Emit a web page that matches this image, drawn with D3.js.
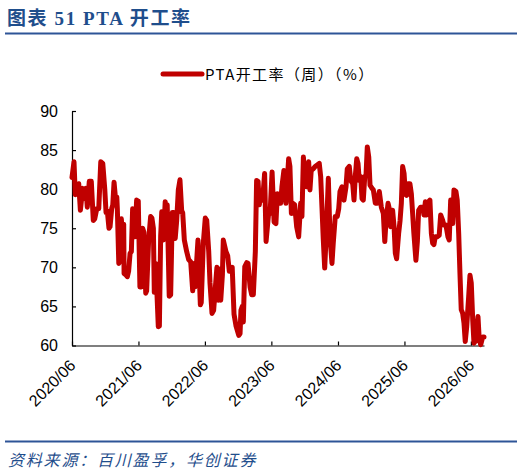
<!DOCTYPE html>
<html>
<head>
<meta charset="utf-8">
<script src="https://cdn.jsdelivr.net/npm/d3@7"></script>
<style>
  body { margin: 0; background: #fff; }
  svg { display: block; }
</style>
</head>
<body>
<svg width="524" height="476"></svg>
<script>
// PTA weekly operating rate (%)
const pta = [
  ["2020-06-01",81.5],["2020-06-12",83.5],["2020-06-19",79.3],["2020-07-08",80.7],["2020-07-17",77.3],
  ["2020-07-30",80.1],["2020-08-06",78.8],["2020-08-17",80.1],["2020-08-24",77.7],["2020-09-04",81.0],
  ["2020-09-15",81.0],["2020-09-26",76.0],["2020-10-04",76.2],["2020-10-15",77.5],["2020-10-26",77.5],
  ["2020-11-06",83.5],["2020-11-17",83.3],["2020-11-28",80.0],["2020-12-05",77.0],["2020-12-12",77.2],
  ["2020-12-21",75.0],["2020-12-27",75.2],["2021-01-05",77.5],["2021-01-11",78.0],["2021-01-18",80.9],
  ["2021-01-29",78.0],["2021-02-02",79.0],["2021-02-05",77.5],["2021-02-13",70.5],["2021-02-23",71.0],
  ["2021-02-27",76.2],["2021-03-06",74.0],["2021-03-12",75.5],["2021-03-14",69.2],["2021-03-25",69.0],
  ["2021-04-01",68.8],["2021-04-08",69.5],["2021-04-16",71.8],["2021-04-23",72.0],["2021-04-30",77.5],
  ["2021-05-04",75.0],["2021-05-08",77.5],["2021-05-13",73.9],["2021-05-22",78.6],["2021-05-26",74.0],
  ["2021-05-31",78.5],["2021-06-09",67.5],["2021-06-17",67.5],["2021-06-24",75.0],["2021-07-01",74.5],
  ["2021-07-11",66.7],["2021-07-16",67.0],["2021-07-27",73.5],["2021-08-07",76.5],["2021-08-14",76.3],
  ["2021-08-22",75.0],["2021-08-27",66.8],["2021-09-04",70.5],["2021-09-18",62.4],["2021-09-24",62.5],
  ["2021-10-01",74.0],["2021-10-07",77.1],["2021-10-12",77.0],["2021-10-16",73.5],["2021-10-26",78.4],
  ["2021-11-03",74.0],["2021-11-06",78.0],["2021-11-17",66.3],["2021-11-25",66.5],["2021-12-04",77.0],
  ["2021-12-13",77.0],["2021-12-20",73.7],["2021-12-28",76.0],["2022-01-06",79.9],["2022-01-15",81.2],
  ["2022-01-25",77.0],["2022-01-30",77.0],["2022-02-08",73.5],["2022-02-21",72.0],["2022-03-04",71.0],
  ["2022-03-15",70.7],["2022-03-26",67.0],["2022-04-02",70.5],["2022-04-08",67.5],["2022-04-24",73.5],
  ["2022-05-07",65.2],["2022-05-12",65.5],["2022-05-23",73.0],["2022-06-03",76.3],["2022-06-11",76.0],
  ["2022-06-22",72.0],["2022-06-29",68.0],["2022-07-10",64.1],["2022-07-19",64.5],["2022-08-01",68.5],
  ["2022-08-06",70.0],["2022-08-14",65.8],["2022-08-19",69.8],["2022-08-27",65.8],["2022-09-05",69.0],
  ["2022-09-10",73.5],["2022-09-25",72.0],["2022-10-04",71.5],["2022-10-13",69.5],["2022-10-29",70.0],
  ["2022-11-08",64.0],["2022-11-19",62.5],["2022-12-04",61.3],["2022-12-11",61.5],["2022-12-16",64.5],
  ["2022-12-23",65.0],["2022-12-29",63.0],["2023-01-06",70.1],["2023-01-17",70.6],["2023-01-24",70.5],
  ["2023-02-04",67.5],["2023-02-13",66.5],["2023-02-22",66.5],["2023-03-05",72.0],["2023-03-12",81.1],
  ["2023-03-20",81.0],["2023-03-27",78.0],["2023-03-31",79.0],["2023-04-14",78.6],["2023-04-25",82.0],
  ["2023-05-03",73.3],["2023-05-17",76.9],["2023-05-25",76.9],["2023-06-05",82.2],["2023-06-16",75.8],
  ["2023-06-26",75.6],["2023-07-04",79.4],["2023-07-11",78.2],["2023-07-22",78.2],["2023-07-29",80.3],
  ["2023-08-09",82.4],["2023-08-20",78.2],["2023-09-04",83.9],["2023-09-11",82.9],["2023-09-19",76.9],
  ["2023-09-26",78.2],["2023-10-07",78.0],["2023-10-18",75.2],["2023-10-29",73.9],["2023-11-09",78.2],
  ["2023-11-16",76.5],["2023-11-24",84.1],["2023-12-01",81.6],["2023-12-12",80.3],["2023-12-23",83.5],
  ["2023-12-30",79.9],["2024-01-06",82.4],["2024-01-17",82.6],["2024-01-28",82.9],["2024-02-08",83.1],
  ["2024-02-19",83.3],["2024-02-27",81.6],["2024-03-05",77.7],["2024-03-12",73.7],["2024-03-20",69.9],
  ["2024-03-31",75.6],["2024-04-09",81.4],["2024-04-18",73.9],["2024-04-29",70.5],["2024-05-06",73.1],
  ["2024-05-17",76.5],["2024-05-28",76.5],["2024-06-05",77.5],["2024-06-12",79.7],["2024-06-23",80.3],
  ["2024-07-04",78.6],["2024-07-15",80.3],["2024-07-22",82.6],["2024-08-02",82.9],["2024-08-10",81.1],
  ["2024-08-21",80.7],["2024-08-28",78.6],["2024-09-04",81.6],["2024-09-12",83.9],["2024-09-19",83.3],
  ["2024-09-26",81.1],["2024-10-04",81.6],["2024-10-11",78.8],["2024-10-18",78.6],["2024-10-26",81.6],
  ["2024-11-02",81.8],["2024-11-09",85.4],["2024-11-17",84.1],["2024-11-24",80.5],["2024-12-05",80.1],
  ["2024-12-12",79.9],["2024-12-23",78.2],["2025-01-03",78.2],["2025-01-14",79.7],["2025-01-25",77.7],
  ["2025-02-05",76.9],["2025-02-13",73.3],["2025-02-20",76.0],["2025-03-03",78.2],["2025-03-10",77.5],
  ["2025-03-17",75.2],["2025-03-28",77.3],["2025-04-05",75.2],["2025-04-12",71.8],["2025-04-19",71.1],
  ["2025-04-30",74.3],["2025-05-08",76.0],["2025-05-15",78.2],["2025-05-22",82.9],["2025-05-30",82.0],
  ["2025-06-06",79.4],["2025-06-13",79.2],["2025-06-20",80.7],["2025-07-01",80.7],["2025-07-09",79.4],
  ["2025-07-16",76.9],["2025-07-23",74.3],["2025-08-03",70.9],["2025-08-11",73.3],["2025-08-18",77.3],
  ["2025-08-29",77.7],["2025-09-09",77.7],["2025-09-16",76.7],["2025-09-24",78.4],["2025-10-01",76.7],
  ["2025-10-12",78.4],["2025-10-19",78.6],["2025-10-27",74.3],["2025-11-03",73.1],["2025-11-10",72.9],
  ["2025-11-17",73.9],["2025-11-28",73.9],["2025-12-09",74.1],["2025-12-17",76.7],["2025-12-28",76.0],
  ["2026-01-04",75.4],["2026-01-15",75.4],["2026-01-26",73.9],["2026-02-02",73.5],["2026-02-10",78.6],
  ["2026-02-17",78.6],["2026-02-21",75.6],["2026-02-28",79.9],["2026-03-11",79.7],["2026-03-18",78.6],
  ["2026-03-26",74.3],["2026-04-02",69.2],["2026-04-09",64.6],["2026-04-17",64.1],["2026-04-24",62.9],
  ["2026-05-01",60.5],["2026-05-09",62.4],["2026-05-20",66.3],["2026-05-27",69.0],["2026-06-03",68.0],
  ["2026-06-11",63.3],["2026-06-18",60.3],["2026-06-29",60.7],["2026-07-10",63.7],["2026-07-17",60.7],
  ["2026-07-25",60.1],["2026-08-05",61.1],["2026-08-12",61.1]
];

const yTicks = [60, 65, 70, 75, 80, 85, 90];
const xTicks = ["2020-06-01","2021-06-01","2022-06-01","2023-06-01","2024-06-01","2025-06-01","2026-06-01"];
const xStart = "2020-06-01", xEnd = "2026-08-12";

const title = "图表 51 PTA 开工率";
const legendLabel = "PTA开工率（周）（%）";
const source = "资料来源：百川盈孚，华创证券";

const parse = d3.timeParse("%Y-%m-%d");
const data = pta.map(d => ({ date: parse(d[0]), v: d[1] }));

const svg = d3.select("svg");
const blue = "#1f4e8c", red = "#c00000";

// header
svg.append("text")
  .attr("x", 7).attr("y", 25)
  .style("font-family", "'Liberation Serif', 'Noto Sans CJK SC', serif")
  .style("font-weight", "bold").style("font-size", "19px").style("letter-spacing", "1.6px")
  .attr("fill", blue).text(title);
svg.append("line").attr("x1", 5).attr("x2", 517).attr("y1", 33.5).attr("y2", 33.5)
  .attr("stroke", "#2e5597").attr("stroke-width", 2);

// legend
const lg = svg.append("g").attr("transform", "translate(163,74)");
lg.append("line").attr("x1", 0).attr("x2", 39).attr("y1", 0).attr("y2", 0)
  .attr("stroke", red).attr("stroke-width", 5).attr("stroke-linecap", "round");
lg.append("text").attr("x", 42).attr("y", 6)
  .style("font-family", "'Noto Sans CJK SC', sans-serif").style("font-size", "15px")
  .style("letter-spacing", "1.4px")
  .attr("fill", "#000").text(legendLabel);

// scales
const x = d3.scaleTime().domain([parse(xStart), parse(xEnd)]).range([72, 484]);
const y = d3.scaleLinear().domain([60, 90]).range([345.5, 111]);

const axisFont = "'Liberation Sans', Arial, sans-serif";

const gy = svg.append("g").attr("transform", "translate(72,0)")
  .call(d3.axisLeft(y).tickValues(yTicks).tickSizeInner(-4).tickSizeOuter(0).tickPadding(14));
gy.selectAll("text").style("font-family", axisFont).style("font-size", "16px").attr("fill", "#000");

const gx = svg.append("g").attr("transform", "translate(0,345.5)")
  .call(d3.axisBottom(x).tickValues(xTicks.map(parse)).tickSizeInner(-4).tickSizeOuter(0)
    .tickFormat(d3.timeFormat("%Y/%m")));
gx.selectAll("text")
  .attr("x", 0).attr("y", 0).attr("dy", 0)
  .attr("text-anchor", "end")
  .attr("transform", "translate(4,21) rotate(-45)")
  .style("font-family", axisFont).style("font-size", "16px").attr("fill", "#000");

svg.selectAll(".domain, .tick line").attr("stroke", "#000").attr("stroke-width", 1.2);

// series
svg.append("path").datum(data)
  .attr("fill", "none").attr("stroke", red).attr("stroke-width", 5)
  .attr("stroke-linejoin", "round").attr("stroke-linecap", "round")
  .attr("d", d3.line().x(d => x(d.date)).y(d => y(d.v)));

// footer
svg.append("line").attr("x1", 5).attr("x2", 517).attr("y1", 441.5).attr("y2", 441.5)
  .attr("stroke", "#2e5597").attr("stroke-width", 2);
svg.append("text").attr("x", 8).attr("y", 466)
  .style("font-family", "'Noto Sans CJK SC', sans-serif").style("font-style", "italic")
  .style("font-size", "16px").style("letter-spacing", "1.8px")
  .attr("fill", blue).text(source);
</script>
</body>
</html>
